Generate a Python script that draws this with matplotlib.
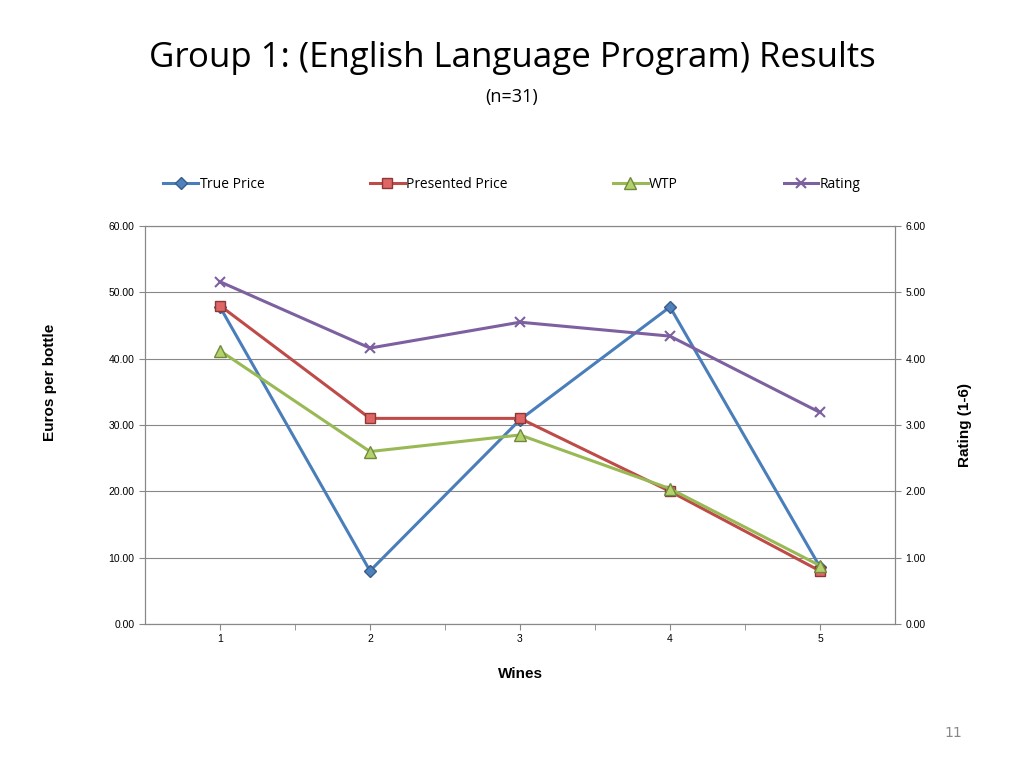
import matplotlib
matplotlib.use("Agg")
import matplotlib.pyplot as plt

wines = [1, 2, 3, 4, 5]
true_price = [47.8, 8.0, 30.8, 47.8, 8.6]
presented_price = [48.0, 31.0, 31.0, 20.0, 8.0]
wtp = [41.2, 26.0, 28.5, 20.4, 8.8]
rating = [5.16, 4.16, 4.55, 4.34, 3.19]
left_ticks = [0, 10, 20, 30, 40, 50, 60]
right_ticks = [0, 1, 2, 3, 4, 5, 6]

fig = plt.figure(figsize=(10.24, 7.68), dpi=100)
ax = fig.add_axes([0.1416, 0.1875, 0.7324, 0.5182])
ax2 = ax.twinx()

l1, = ax.plot(wines, true_price, color="#4A7EBB", lw=2.2, marker="D", ms=6,
              mfc="#4F81BD", mec="#385D8A", label="True Price")
l2, = ax.plot(wines, presented_price, color="#BE4B48", lw=2.2, marker="s", ms=7,
              mfc="#E06666", mec="#8C3836", label="Presented Price")
l3, = ax.plot(wines, wtp, color="#98B954", lw=2.2, marker="^", ms=8,
              mfc="#B3D36A", mec="#71893F", label="WTP")
l4, = ax2.plot(wines, rating, color="#7D60A0", lw=2.2, marker="x", ms=7,
               mew=1.5, label="Rating")

ax.set_xlim(0.5, 5.5)
ax.set_ylim(0, 60)
ax2.set_ylim(0, 6)
ax.set_yticks(left_ticks)
ax.set_yticklabels([f"{v:.2f}" for v in left_ticks], fontsize=7.5, family="Liberation Sans")
ax2.set_yticks(right_ticks)
ax2.set_yticklabels([f"{v:.2f}" for v in right_ticks], fontsize=7.5, family="Liberation Sans")
ax.set_xticks(wines)
ax.set_xticklabels([str(w) for w in wines], fontsize=7.5, family="Liberation Sans")
ax.set_xticks([1.5, 2.5, 3.5, 4.5], minor=True)
ax.tick_params(axis="x", which="both", length=4, color="#888888")
ax.tick_params(axis="y", length=4, color="#888888")
ax2.tick_params(axis="y", length=4, color="#888888")
ax.grid(axis="y", color="#888888", lw=0.8)
ax.set_axisbelow(True)
for a in (ax, ax2):
    for s in ("left", "right", "bottom", "top"):
        a.spines[s].set_color("#888888")

ax.set_xlabel("Wines", fontsize=11, fontweight="bold", labelpad=16, family="Liberation Sans")
fig.text(0.049, 0.502, "Euros per bottle", rotation=90, ha="center", va="center",
         fontsize=11, fontweight="bold", family="Liberation Sans")
fig.text(0.942, 0.447, "Rating (1-6)", rotation=90, ha="center", va="center",
         fontsize=11, fontweight="bold", family="Liberation Sans")

fig.legend(handles=[l1, l2, l3, l4], loc="center", bbox_to_anchor=(0.5, 0.76),
           ncol=4, frameon=False, fontsize=10, columnspacing=7.6, handlelength=2.5,
           handletextpad=0.1, prop={"family": "Open Sans", "size": 10})

fig.text(0.5, 0.925, "Group 1: (English Language Program) Results", ha="center",
         va="center", fontsize=25, family="Open Sans")
fig.text(0.5, 0.874, "(n=31)", ha="center", va="center", fontsize=13, family="Open Sans")
fig.text(0.931, 0.045, "11", ha="center", va="center", fontsize=10, color="#888888")

fig.savefig("out.png", dpi=100)
